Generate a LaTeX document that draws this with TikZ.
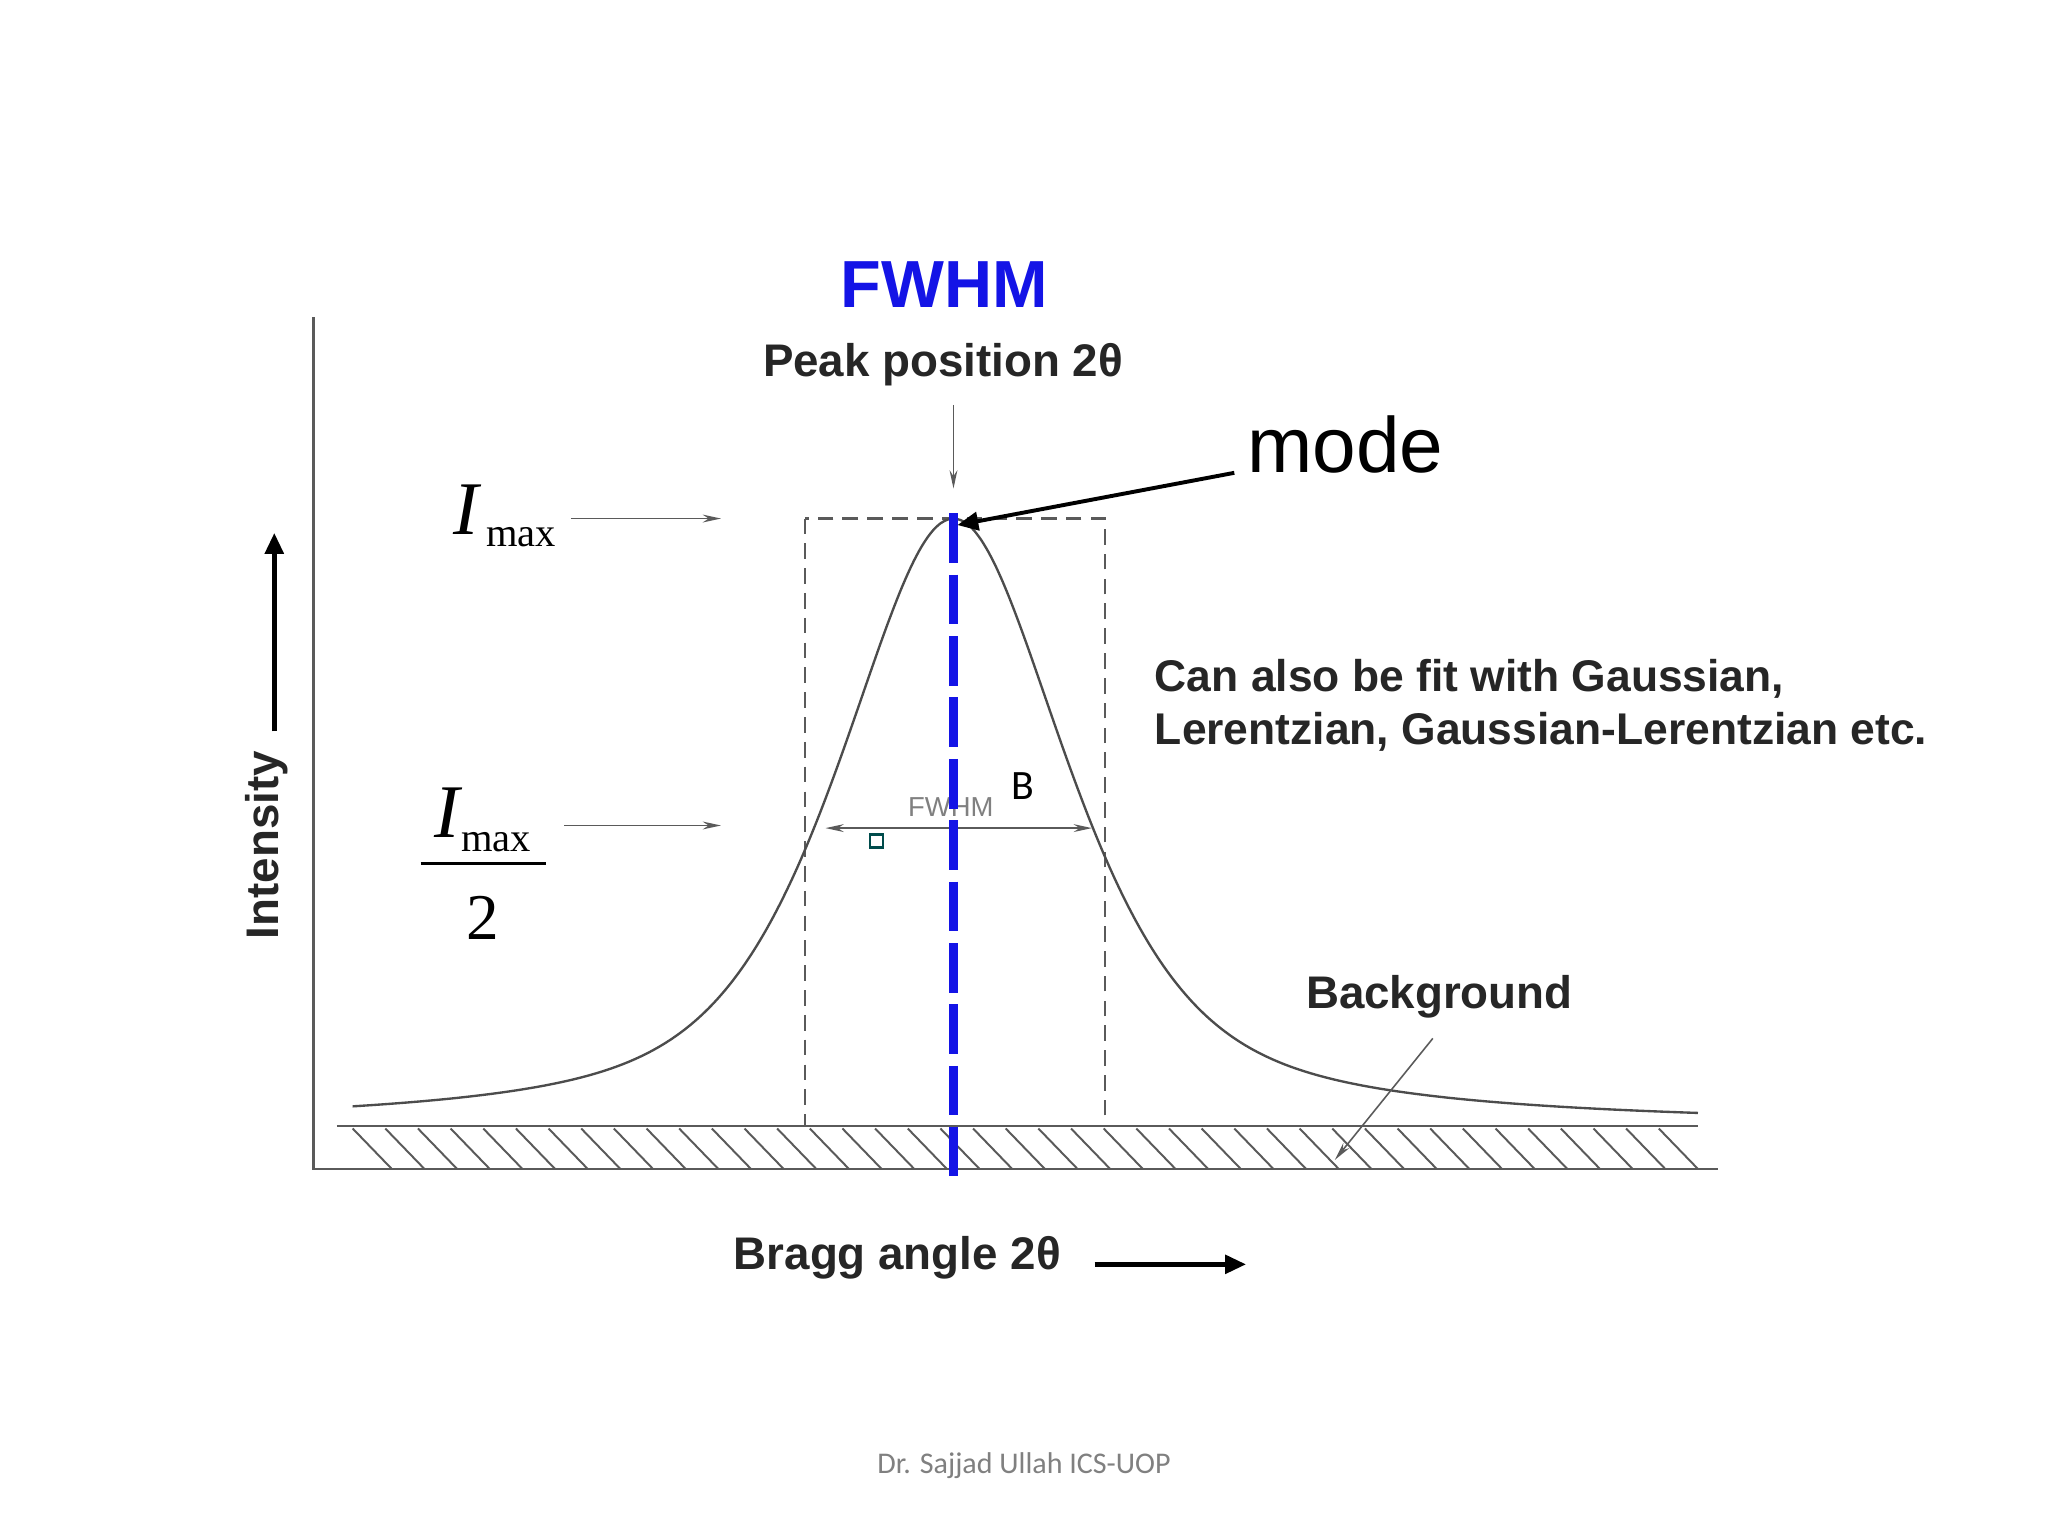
\documentclass[tikz,border=0pt]{standalone}
\usepackage{fontspec}
\setmainfont{Liberation Sans}
\newfontfamily\myserif{Liberation Serif}
\newfontfamily\carl{Carlito}
\usetikzlibrary{arrows.meta}
\definecolor{fblue}{RGB}{20,20,230}
\definecolor{gr}{RGB}{90,90,90}
\begin{document}
\begin{tikzpicture}[x=1pt,y=-1pt,
  lab/.style={font=\fontsize{35}{42}\selectfont\bfseries,text=black!85,inner sep=0},
  thin arrow/.style={draw=gr,line width=1.2pt,-{Stealth[length=14pt,width=6pt]}},
  bold arrow/.style={draw=black,line width=3.5pt,-{Triangle[length=16pt,width=14pt]}}]
\useasboundingbox (0,0) rectangle (1568,1176);
\fill[white] (0,0) rectangle (1568,1176);
% axes
\draw[line width=2pt,gr] (240,243) -- (240,895) -- (1315,895);
\draw[line width=1.5pt,gr] (258,862) -- (1300,862);
\foreach \x in {270,295,...,1290} \draw[line width=1.5pt,gr] (\x,864) -- (\x+30,895);
% box
\draw[gr,line width=1.6pt,dash pattern=on 12pt off 7pt] (616,397) rectangle (846,862);
% curve
\draw[line width=1.8pt,black!70,smooth] plot[domain=270:1300,samples=200]
  (\x,{862-465*(0.65/(1+((\x-730)/105)^2)+0.35*exp(-0.693*((\x-730)/105)^2))});
% FWHM arrow
\draw[gr,line width=1.2pt,{Stealth[length=14pt,width=6pt]}-{Stealth[length=14pt,width=6pt]}] (632,634) -- (836,634);
\node[text=gray,font=\fontsize{21}{24}\selectfont] (fw) at (728,618) {FWHM};
\node[font=\carl\fontsize{32}{36}\selectfont] (b) at (783,602) {B};
\node[draw=teal!60!black,line width=2pt,minimum size=10pt,inner sep=0] (sq) at (671,644) {};
% blue dashed
\coordinate (btop) at (730,393); \coordinate (bbot) at (730,900);
\draw[fblue,line width=7pt,dash pattern=on 38pt off 9pt] (btop) -- (bbot);
% Imax
\node[font=\myserif\fontsize{58}{60}\selectfont\itshape,inner sep=0] (im) at (357,390) {I};
\node[font=\myserif\fontsize{31}{32}\selectfont,inner sep=0] at (399,411) {max};
\coordinate (a1s) at (437,397); \coordinate (a1e) at (552,397);
\draw[thin arrow] (a1s) -- (a1e);
\node[font=\myserif\fontsize{58}{60}\selectfont\itshape,inner sep=0] (im2) at (342,622) {I};
\node[font=\myserif\fontsize{31}{32}\selectfont,inner sep=0] at (380,645) {max};
\draw[line width=2pt] (322,661) -- (418,661);
\node[font=\myserif\fontsize{50}{50}\selectfont,inner sep=0] at (370,703) {2};
\coordinate (a2s) at (432,632); \coordinate (a2e) at (552,632);
\draw[thin arrow] (a2s) -- (a2e);
% Intensity
\node[lab,rotate=90] (int) at (204,647) {Intensity};
\coordinate (ia) at (210,560); \coordinate (ib) at (210,408);
\draw[bold arrow] (ia) -- (ib);
% top labels
\node[font=\fontsize{51}{56}\selectfont\bfseries,text=fblue] (fwhm) at (723,218) {FWHM};
\node[lab] (peak) at (722,279) {Peak position 2θ};
\coordinate (pa) at (730,310); \coordinate (pb) at (730,374);
\draw[thin arrow] (pa) -- (pb);
\node[font=\fontsize{60}{66}\selectfont,inner sep=0] (mode) at (1030,340) {mode};
\coordinate (ma) at (945,362); \coordinate (mb) at (733,402);
\draw[bold arrow,line width=3pt] (ma) -- (mb);
\node[lab,font=\fontsize{34}{40}\selectfont\bfseries,align=left,anchor=west] (can) at (884,540) {Can also be fit with Gaussian,\\Lerentzian, Gaussian-Lerentzian etc.};
\node[lab] (bg) at (1102,763) {Background};
\coordinate (bga) at (1097,795); \coordinate (bgb) at (1022,888);
\draw[thin arrow] (bga) -- (bgb);
\node[lab] (bragg) at (687,963) {Bragg angle 2θ};
\coordinate (ba) at (838,968); \coordinate (bb) at (954,968);
\draw[bold arrow] (ba) -- (bb);
\node[font=\carl\fontsize{23}{26}\selectfont,text=gray] (foot) at (784,1122) {Dr. Sajjad Ullah ICS-UOP};
\end{tikzpicture}
\end{document}
